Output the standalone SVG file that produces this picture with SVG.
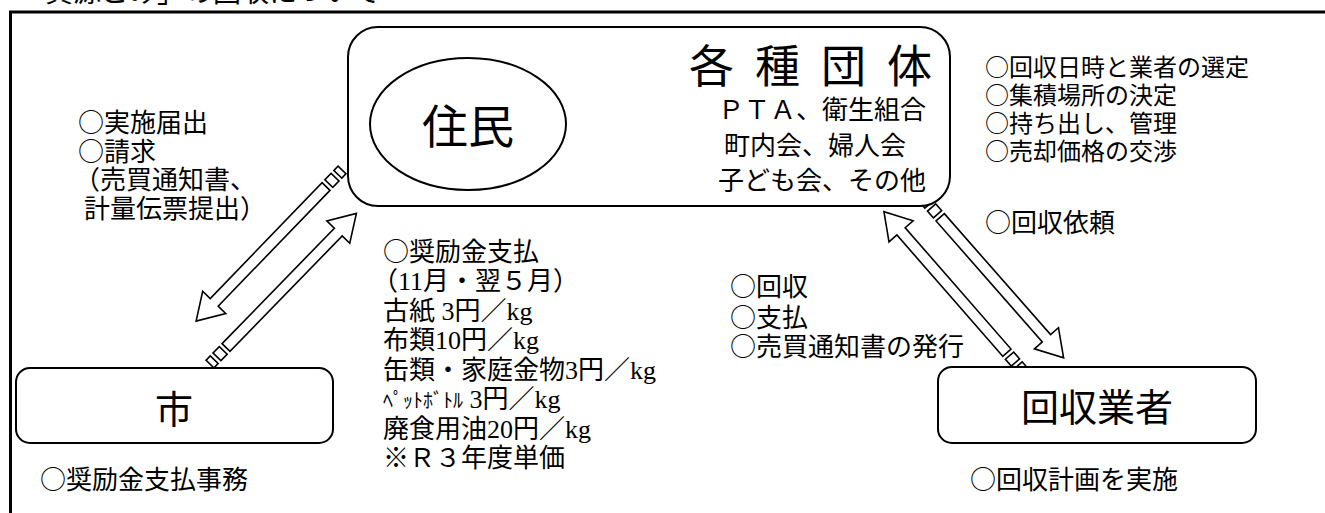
<svg xmlns="http://www.w3.org/2000/svg" width="1325" height="513" viewBox="0 0 1325 513">
<style>
.t{font-family:"Noto Sans CJK JP","Noto Sans CJK SC",sans-serif;fill:#000}
.s{font-family:"Liberation Serif",serif}
.box{fill:#fff;stroke:#000;stroke-width:2}
.arr{fill:#fff;stroke:#000;stroke-width:1.6;stroke-linejoin:miter}
.frame{fill:none;stroke:#000;stroke-width:3}
</style>
<defs>
<g id="sarrow" class="arr">
<rect x="0" y="-5.5" width="6" height="11"/>
<rect x="10" y="-5.5" width="9" height="11"/>
<polygon points="23,-5.5 184,-5.5 184,-16 210,0 184,16 184,5.5 23,5.5"/>
</g>
</defs>
<rect width="1325" height="513" fill="#fff"/>
<text class="t" x="45" y="2" font-size="28">資源ごみ」の回収について</text>
<path class="frame" d="M10.5 513 V12 H1325"/>

<g id="connectors">
<use href="#sarrow" transform="translate(342,170) rotate(134)"/>
<use href="#sarrow" transform="translate(210,364) rotate(-45.8)"/>
<use href="#sarrow" transform="translate(925,200) rotate(48.7)"/>
<use href="#sarrow" transform="translate(1022,370) rotate(-131.1)"/>
</g>

<g id="dantai">
<rect class="box" x="348" y="27" width="602" height="179" rx="30"/>
<text class="t" x="689" y="83" font-size="45" letter-spacing="21">各種団体</text>
<text class="t" x="718" y="119" font-size="26">ＰＴＡ、衛生組合</text>
<text class="t" x="724" y="155" font-size="26">町内会、婦人会</text>
<text class="t" x="718" y="190" font-size="26">子ども会、その他</text>
</g>

<g id="jumin">
<ellipse class="box" cx="468" cy="124" rx="98" ry="66"/>
<text class="t" x="468" y="143" font-size="46" text-anchor="middle">住民</text>
</g>

<g id="shi">
<rect class="box" x="16" y="368" width="317" height="75" rx="14"/>
<text class="t" x="174" y="423" font-size="38" text-anchor="middle">市</text>
</g>

<g id="gyosha">
<rect class="box" x="938" y="367" width="318" height="76" rx="14"/>
<text class="t" x="1097" y="421" font-size="38" text-anchor="middle">回収業者</text>
</g>

<g id="labels" class="t">
<text x="985" y="76" font-size="24">○回収日時と業者の選定</text>
<text x="985" y="104" font-size="24">○集積場所の決定</text>
<text x="985" y="132" font-size="24">○持ち出し、管理</text>
<text x="985" y="160" font-size="24">○売却価格の交渉</text>
<text x="985" y="232" font-size="26">○回収依頼</text>

<text x="78" y="132" font-size="26">○実施届出</text>
<text x="78" y="161" font-size="26">○請求</text>
<text x="74" y="189" font-size="26">（売買通知書、</text>
<text x="84" y="218" font-size="26">計量伝票提出）</text>

<text x="383" y="261" font-size="26">○奨励金支払</text>
<text x="372" y="290" font-size="26">（<tspan class="s">11</tspan>月・翌５月）</text>
<text x="383" y="320" font-size="26">古紙<tspan class="s"> 3</tspan>円／<tspan class="s">kg</tspan></text>
<text x="383" y="349" font-size="26">布類<tspan class="s">10</tspan>円／<tspan class="s">kg</tspan></text>
<text x="383" y="379" font-size="26">缶類・家庭金物<tspan class="s">3</tspan>円／<tspan class="s">kg</tspan></text>
<text x="383" y="408" font-size="26"><tspan font-size="20">ﾍﾟｯﾄﾎﾞﾄﾙ</tspan><tspan class="s"> 3</tspan>円／<tspan class="s">kg</tspan></text>
<text x="383" y="438" font-size="26">廃食用油<tspan class="s">20</tspan>円／<tspan class="s">kg</tspan></text>
<text x="383" y="467" font-size="26">※Ｒ３年度単価</text>

<text x="730" y="296" font-size="26">○回収</text>
<text x="730" y="327" font-size="26">○支払</text>
<text x="730" y="356" font-size="26">○売買通知書の発行</text>

<text x="40" y="489" font-size="26">○奨励金支払事務</text>
<text x="970" y="489" font-size="26">○回収計画を実施</text>
</g>
</svg>
